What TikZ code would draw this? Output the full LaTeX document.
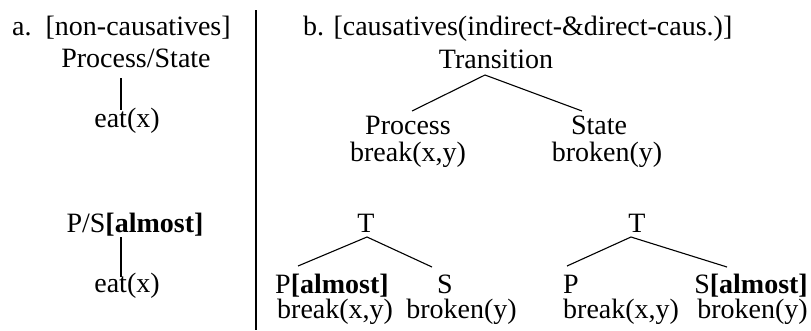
\documentclass[tikz,border=0pt]{standalone}
\usepackage{fontspec}
\setmainfont{Liberation Serif}
\usepackage{tikz}
\usetikzlibrary{calc}

\tikzset{
  lbl/.style={inner sep=0pt, anchor=base, font=\fontsize{28}{32}\selectfont},
  branch/.style={line width=1.1pt},
}
\newcommand{\alm}{\textbf{[almost]}}

\begin{document}
\begin{tikzpicture}[x=1pt,y=-1pt]
            \useasboundingbox (0,0) rectangle (811,330);

            % The headings
            \node[lbl,anchor=base west] (ha) at (12,35) {a.\hspace{0.5em}[non-causatives]};
            \node[lbl,anchor=base west] (hb) at (303,35) {b. [causatives(indirect-\&direct-caus.)]};

            % Place the non-causative nodes
            \node[lbl] (ps) at (136,67) {Process/State};
            \node[lbl] (eat1) at (127,127) {eat(x)};
            \coordinate (ps-b) at (121,78);
            \coordinate (eat1-t) at (121,110);
            \node[lbl] (psa) at (135,232) {P/S\alm};
            \node[lbl] (eat2) at (127,292) {eat(x)};
            \coordinate (psa-b) at (121,237);
            \coordinate (eat2-t) at (121,277);

            % Place the causative tree
            \node[lbl] (tr) at (496,68) {Transition};
            \node[lbl] (proc) at (408,134) {Process};
            \node[lbl] (state) at (599,134) {State};
            \node[lbl] (brk1) at (408,161) {break(x,y)};
            \node[lbl] (brkn1) at (607,161) {broken(y)};
            \coordinate (tr-b) at (485,75);
            \coordinate (proc-t) at (412,111);
            \coordinate (state-t) at (582,111);

            % Place the two lower trees
            \node[lbl] (t1) at (366,232) {T};
            \node[lbl,anchor=base west] (p1) at (275,293) {P\alm};
            \node[lbl] (s1) at (445,293) {S};
            \node[lbl,anchor=base west] (brk2) at (277,318) {break(x,y)};
            \node[lbl,anchor=base east] (brkn2) at (517,318) {broken(y)};
            \coordinate (t1-b) at (367,237);
            \coordinate (p1-t) at (298,266);
            \coordinate (s1-t) at (432,267);

            \node[lbl] (t2) at (637,232) {T};
            \node[lbl,anchor=base west] (p2) at (563,293) {P};
            \node[lbl,anchor=base east] (s2) at (808,293) {S\alm};
            \node[lbl,anchor=base west] (brk3) at (563,318) {break(x,y)};
            \node[lbl,anchor=base east] (brkn3) at (808,318) {broken(y)};
            \coordinate (t2-b) at (631,237);
            \coordinate (p2-t) at (567,266);
            \coordinate (s2-t) at (727,267);

            % The lines!
            \draw[line width=1.5pt] (256,10) -- (256,330);
            \draw[branch] (ps-b) -- (eat1-t);
            \draw[branch] (psa-b) -- (eat2-t);
            \draw[branch] (proc-t) -- (tr-b) -- (state-t);
            \draw[branch] (p1-t) -- (t1-b) -- (s1-t);
            \draw[branch] (p2-t) -- (t2-b) -- (s2-t);
        \end{tikzpicture}
\end{document}
